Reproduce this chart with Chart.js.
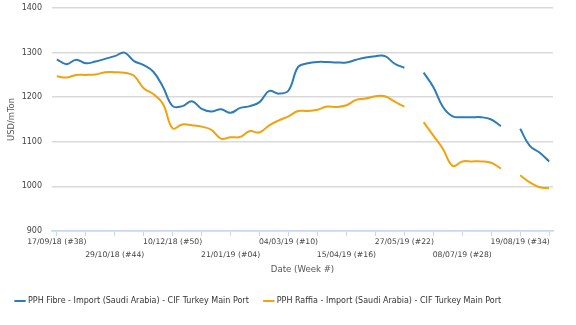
<!DOCTYPE html>
<html>
<head>
<meta charset="utf-8">
<script src="https://cdn.jsdelivr.net/npm/chart.js@4/dist/chart.umd.min.js"></script>
<style>
    html, body { margin: 0; padding: 0; background: #ffffff; }
    #wrap { width: 576px; height: 325px; }
</style>
</head>
<body>
<div id="wrap"><canvas id="priceChart"></canvas></div>
<script>
// 週ごとの価格 (USD/mTon), 17/09/18 から 09/09/19 まで
const tickLabels = [
    '17/09/18 (#38)', '29/10/18 (#44)', '10/12/18 (#50)', '21/01/19 (#04)', '04/03/19 (#10)',
    '15/04/19 (#16)', '27/05/19 (#22)', '08/07/19 (#28)', '19/08/19 (#34)'
];

const fibre = [
    1285, 1274, 1284, 1276, 1280, 1286, 1292, 1300, 1281, 1272,
    1257, 1223, 1180, 1180, 1191, 1174, 1168, 1173, 1165, 1176,
    1180, 1189, 1214, 1208, 1215, 1268, 1276, 1279, 1279, 1278,
    1278, 1284, 1289, 1292, 1292, 1275, 1266, null, 1255, 1223,
    1178, 1157, 1155, 1155, 1155, 1150, 1135, null, 1129, 1091,
    1076, 1056
];

const raffia = [
    1247, 1244, 1250, 1250, 1251, 1256, 1256, 1255, 1248, 1220,
    1207, 1185, 1130, 1139, 1137, 1134, 1127, 1107, 1110, 1111,
    1124, 1121, 1137, 1148, 1157, 1169, 1169, 1172, 1179, 1178,
    1182, 1194, 1197, 1202, 1202, 1190, 1179, null, 1144, 1114,
    1084, 1046, 1056, 1056, 1056, 1053, 1040, null, 1025, 1009,
    998, 996
];

const seriesNames = [
    'PPH Fibre - Import (Saudi Arabia) - CIF Turkey Main Port',
    'PPH Raffia - Import (Saudi Arabia) - CIF Turkey Main Port'
];

const FONT = 'DejaVu Sans';

function toPoints(values) {
    return values.map((v, i) => ({ x: i, y: v }));
}

const ctx = document.getElementById('priceChart');
new Chart(ctx, {
    type: 'line',
    data: {
        datasets: [{
            label: seriesNames[0],
            data: toPoints(fibre),
            borderColor: '#2d7bb9',
            backgroundColor: '#2d7bb9',
            borderWidth: 2,
            pointRadius: 0,
            tension: 0.4,
            spanGaps: false
        }, {
            label: seriesNames[1],
            data: toPoints(raffia),
            borderColor: '#f1a20d',
            backgroundColor: '#f1a20d',
            borderWidth: 2,
            pointRadius: 0,
            tension: 0.4,
            spanGaps: false
        }]
    },
    options: {
        responsive: true,
        maintainAspectRatio: false,
        animation: false,
        layout: {
            padding: { top: 8, right: 23, bottom: 10, left: 0 }
        },
        plugins: {
            tooltip: { enabled: false },
            legend: {
                position: 'bottom',
                align: 'start',
                labels: {
                    usePointStyle: true,
                    pointStyle: 'line',
                    boxWidth: 13,
                    padding: 16,
                    color: '#333333',
                    font: { family: FONT, size: 8 }
                }
            }
        },
        scales: {
            x: {
                type: 'linear',
                min: -0.5,
                max: 51.4,
                afterBuildTicks: (scale) => {
                    const ticks = [];
                    for (let v = 0; v <= 51; v += 3) ticks.push({ value: v });
                    scale.ticks = ticks;
                },
                afterFit: (scale) => { scale.height = 50; },
                ticks: {
                    autoSkip: false,
                    maxRotation: 0,
                    minRotation: 0,
                    padding: -1,
                    color: '#444444',
                    font: { family: FONT, size: 7.7, lineHeight: 1.72 },
                    callback: (value) => {
                        if (value % 6 !== 0) return '';
                        const k = value / 6;
                        return k % 2 === 0 ? [tickLabels[k]] : ['', tickLabels[k]];
                    }
                },
                grid: {
                    drawOnChartArea: false,
                    drawTicks: true,
                    tickLength: 5,
                    color: '#ccd6eb'
                },
                border: { display: true, color: '#ccd6eb', width: 1.5 },
                title: {
                    display: true,
                    text: 'Date (Week #)',
                    color: '#555555',
                    padding: { top: 0, bottom: 6 },
                    font: { family: FONT, size: 8.6 }
                }
            },
            y: {
                min: 900,
                max: 1400,
                afterFit: (scale) => {
                    scale.width = 52;
                    scale.paddingTop = 0;
                    scale.paddingBottom = 0;
                },
                ticks: {
                    stepSize: 100,
                    padding: 10,
                    color: '#444444',
                    font: { family: FONT, size: 8 },
                    callback: (value) => String(value)
                },
                grid: {
                    color: '#d9d9d9',
                    lineWidth: 1.5,
                    drawTicks: false
                },
                border: { display: false },
                title: {
                    display: true,
                    text: 'USD/mTon',
                    color: '#555555',
                    padding: { top: 6.5, bottom: 2 },
                    font: { family: FONT, size: 8.4 }
                }
            }
        }
    }
});
</script>
</body>
</html>
